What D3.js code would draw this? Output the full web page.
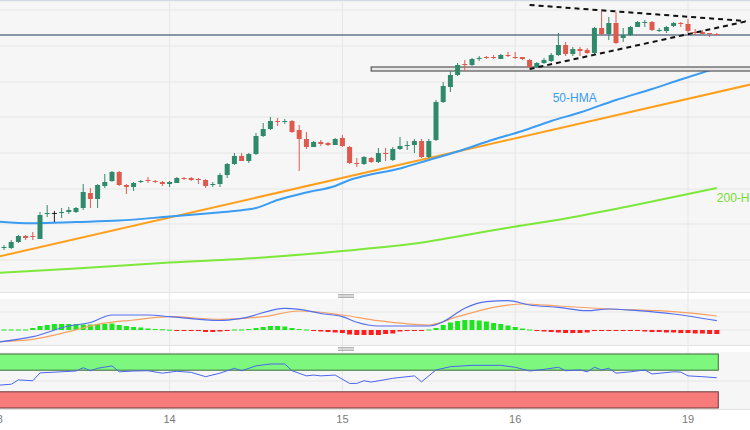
<!DOCTYPE html>
<html>
<head>
<meta charset="utf-8">
<script src="https://cdn.jsdelivr.net/npm/d3@7"></script>
<style>
  body { margin: 0; background: #fff; }
  svg { display: block; font-family: Arial, "Liberation Sans", sans-serif; }
</style>
</head>
<body>
<div id="chart"></div>
<script>
// hourly candles, index 0 = 13th 01:00 ... index 99 = 19th 04:00 (weekend skipped)
var dayTicks = [[-1, "13"], [23, "14"], [47, "15"], [71, "16"], [95, "19"]];

// [open, high, low, close]
var ohlc = [
  [1.0662,1.0665,1.0660,1.0663],[1.0662,1.0670,1.0661,1.0668],[1.0668,1.0675,1.0667,1.0674],[1.0674,1.0675,1.0670,1.0672],
  [1.0674,1.0678,1.0670,1.0673],[1.0671,1.0698,1.0671,1.0695],[1.0696,1.0705,1.0693,1.0697],[1.0697,1.0699,1.0688,1.0697],
  [1.0697,1.0702,1.0692,1.0698],[1.0698,1.0703,1.0696,1.0700],[1.0698,1.0703,1.0697,1.0702],[1.0702,1.0726,1.0700,1.0718],
  [1.0717,1.0722,1.0702,1.0711],[1.0711,1.0726,1.0702,1.0725],[1.0724,1.0736,1.0722,1.0728],[1.0729,1.0739,1.0728,1.0738],
  [1.0738,1.0739,1.0724,1.0725],[1.0725,1.0726,1.0716,1.0723],[1.0723,1.0728,1.0719,1.0727],[1.0728,1.0730,1.0727,1.0729],
  [1.0730,1.0733,1.0727,1.0729],[1.0729,1.0730,1.0727,1.0728],[1.0728,1.0729,1.0724,1.0726],[1.0726,1.0729,1.0723,1.0728],
  [1.0727,1.0733,1.0727,1.0732],[1.0732,1.0733,1.0730,1.0731],[1.0732,1.0733,1.0729,1.0730],[1.0731,1.0732,1.0726,1.0730],
  [1.0730,1.0731,1.0722,1.0724],[1.0725,1.0728,1.0723,1.0726],[1.0726,1.0737,1.0723,1.0735],[1.0735,1.0747,1.0732,1.0746],
  [1.0746,1.0757,1.0745,1.0754],[1.0754,1.0757,1.0749,1.0749],[1.0749,1.0757,1.0747,1.0756],[1.0756,1.0777,1.0755,1.0774],
  [1.0774,1.0787,1.0773,1.0781],[1.0781,1.0793,1.0780,1.0789],[1.0789,1.0792,1.0784,1.0788],[1.0788,1.0791,1.0786,1.0789],
  [1.0789,1.0790,1.0777,1.0778],[1.0780,1.0785,1.0739,1.0771],[1.0771,1.0778,1.0761,1.0763],[1.0763,1.0769,1.0763,1.0768],
  [1.0768,1.0770,1.0764,1.0766],[1.0767,1.0768,1.0764,1.0765],[1.0765,1.0772,1.0765,1.0771],[1.0772,1.0775,1.0763,1.0764],
  [1.0763,1.0764,1.0746,1.0747],[1.0747,1.0752,1.0743,1.0746],[1.0746,1.0754,1.0745,1.0753],[1.0752,1.0753,1.0747,1.0748],
  [1.0748,1.0762,1.0747,1.0757],[1.0757,1.0762,1.0749,1.0756],[1.0750,1.0763,1.0749,1.0761],[1.0761,1.0773,1.0760,1.0764],
  [1.0764,1.0769,1.0760,1.0765],[1.0765,1.0771,1.0757,1.0769],[1.0769,1.0771,1.0752,1.0753],[1.0753,1.0771,1.0752,1.0769],
  [1.0770,1.0810,1.0769,1.0808],[1.0808,1.0828,1.0807,1.0824],[1.0823,1.0839,1.0818,1.0835],[1.0835,1.0847,1.0834,1.0845],
  [1.0846,1.0850,1.0839,1.0845],[1.0845,1.0852,1.0844,1.0851],[1.0851,1.0854,1.0849,1.0852],[1.0853,1.0854,1.0851,1.0852],
  [1.0853,1.0855,1.0851,1.0852],[1.0851,1.0856,1.0851,1.0855],[1.0855,1.0858,1.0853,1.0854],[1.0853,1.0858,1.0851,1.0852],
  [1.0853,1.0853,1.0850,1.0851],[1.0850,1.0851,1.0842,1.0843],[1.0843,1.0848,1.0842,1.0847],[1.0847,1.0852,1.0846,1.0850],
  [1.0849,1.0857,1.0848,1.0855],[1.0855,1.0877,1.0854,1.0865],[1.0865,1.0868,1.0854,1.0856],[1.0856,1.0863,1.0854,1.0861],
  [1.0861,1.0863,1.0854,1.0859],[1.0860,1.0862,1.0856,1.0857],[1.0857,1.0883,1.0856,1.0882],[1.0882,1.0899,1.0875,1.0876],
  [1.0876,1.0893,1.0870,1.0887],[1.0887,1.0898,1.0866,1.0867],[1.0872,1.0882,1.0868,1.0875],[1.0875,1.0884,1.0874,1.0883],
  [1.0883,1.0889,1.0883,1.0888],[1.0887,1.0890,1.0883,1.0888],[1.0888,1.0889,1.0879,1.0880],[1.0879,1.0882,1.0878,1.0880],
  [1.0879,1.0884,1.0877,1.0883],[1.0884,1.0888,1.0883,1.0887],[1.0887,1.0888,1.0883,1.0886],[1.0886,1.0891,1.0877,1.0879],
  [1.0878,1.0881,1.0875,1.0877],[1.0878,1.0880,1.0876,1.0876],[1.0877,1.0877,1.0873,1.0876],[1.0876,1.0877,1.0875,1.0875]
];

var priceGrid = [1.0900, 1.0864, 1.0828, 1.0793, 1.0757, 1.0721, 1.0686, 1.0650];
var lastPrice = 1.0875;

// [index, price]
var hma50 = [[-1,1.06885],[4,1.06867],[10,1.0688],[16,1.06895],[23,1.06935],[29,1.0697],[32,1.0699],[35,1.0702],
  [38,1.0710],[42,1.07175],[46,1.0724],[48,1.0730],[50,1.0734],[55,1.07415],[59,1.0750],[63,1.07585],[68,1.07705],
  [72,1.0779],[76,1.0789],[80,1.07975],[85,1.0810],[90,1.0821],[94,1.08305],[99,1.0842]];
var hma200 = [[-1,1.0637],[10,1.06415],[23,1.06475],[35,1.0652],[47,1.0659],[59,1.06685],[65,1.0676],[69,1.0681],
  [78,1.06915],[87,1.0704],[99,1.0722]];
var trendLine = [[-1, 1.0653], [104, 1.0826]];
var triangleUpper = [[73, 1.0905], [103, 1.0889]];
var triangleLower = [[73, 1.0841], [103, 1.08885]];
var zoneStart = 51;
var zonePrices = [1.0839, 1.0843];

// MACD panel (values x1e-5)
var macdLine = [[-1,-12.3],[4,-6.7],[9,4],[12,7.5],[15,15],[20,15],[23,13.3],[30,9.5],[33,11.7],[39,21.7],[41,20.7],
  [44,16.5],[47,13.3],[49,7.7],[52,4],[59,4],[61,8.3],[64,21.7],[67,28.3],[70,29.3],[73,25],[77,22.7],[81,19.3],
  [84,21],[88,19.3],[93,16],[99,9.3]];
var signalLine = [[-1,-11.7],[4,-9.3],[9,-1.7],[13,5.7],[18,10],[23,13.3],[30,10.7],[36,13.3],[41,19],[47,15],
  [52,9.3],[59,5],[63,13.3],[68,22.7],[72,26],[77,24],[84,21],[93,18.3],[99,14]];
var histogram = [0.5,0.5,0.5,0.5,2,4,5,6,6,6,6,5.5,5.5,6,6,6.5,5,4,3,2.5,1.5,1,0.7,0.3,-0.3,-0.5,-0.7,-1,-2,-2,
  -1.5,-0.7,0.5,0.5,1,2,3,4,4,3.5,2,1,0.5,-0.5,-1.5,-2,-2.5,-3,-4.5,-5,-5,-5,-5,-4,-3.5,-1.5,-1,-0.7,-0.5,0.5,
  2,5,7.5,9,10,10,9.5,8.5,7,6,4.5,3,1.5,0.5,-1,-1.5,-2,-2.5,-3,-3,-3,-2.5,-1,-0.5,-0.3,-0.3,-0.3,-0.7,-1,-1.5,
  -2,-2,-2.5,-2.5,-3,-3,-3.5,-3.5,-4,-4];

// RSI panel [index, rsi]
var rsi = [[-1,42],[0,43],[1,44],[2,52],[4,50.5],[5,65],[10,68.5],[11,74.5],[12,69],[13,73.5],[15,78],[16,67],
  [18,68.5],[20,69],[22,64.5],[24,68],[26,66],[28,58],[30,64.5],[32,73.5],[33,69],[35,78],[37,81.5],[39,81.5],
  [40,69],[42,59.5],[43,61],[44,59.5],[46,61],[48,45.5],[49,45.5],[50,50.5],[51,48],[54,55],[57,59.5],[58,48.5],
  [60,70.5],[62,76.5],[65,79],[69,79],[71,75.5],[73,68.5],[75,71.5],[77,75.5],[78,69],[80,70.5],[81,67],[82,75.5],
  [83,70.5],[84,73.5],[85,64.5],[87,67],[89,70.5],[90,63],[93,67],[94,66.5],[95,59.5],[97,58],[99,56]];
var rsiBands = [[70, 100, "#7ef77e", "#3b6e3b"], [0, 30, "#f77b7b", "#6e3b3b"]];

var W = 750, H = 430;
var upCol = "#2f8a6c", downCol = "#df5a4c", gridCol = "#e6e6e6";

var svg = d3.select("#chart").append("svg").attr("width", W).attr("height", H);
svg.append("rect").attr("width", W).attr("height", H).attr("fill", "#fff");

var x = d3.scaleLinear().domain([0, 99]).range([4, 716.8]);
var y = d3.scaleLinear().domain([1.0910 - 0.0292, 1.0910]).range([292, 0]);
var ym = d3.scaleLinear().domain([-15, 31]).range([345, 299]);
var yr = d3.scaleLinear().domain([0, 100]).range([408, 354]);

var defs = svg.append("defs");
function clip(id, y0, y1) {
  defs.append("clipPath").attr("id", id).append("rect").attr("x", 0).attr("y", y0).attr("width", W).attr("height", y1 - y0);
}
clip("cMain", 1, 292); clip("cMacd", 299, 345); clip("cRsi", 352, 409);

// panels
svg.append("rect").attr("x", 0).attr("y", 0).attr("width", W).attr("height", 1.5).attr("fill", "#d3d9e6");
[[1.5, 292], [299, 345], [352, 409]].forEach(function(p) {
  svg.append("rect").attr("x", 0).attr("y", p[0]).attr("width", W).attr("height", p[1] - p[0]).attr("fill", "#f6f6f6");
  svg.append("line").attr("x1", 0).attr("x2", W).attr("y1", p[1] + 0.5).attr("y2", p[1] + 0.5).attr("stroke", "#e2e2e2");
});

// vertical day grid
svg.selectAll(".vgrid").data(dayTicks.slice(1)).enter().append("line")
  .attr("x1", function(d) { return x(d[0]); }).attr("x2", function(d) { return x(d[0]); })
  .attr("y1", 1.5).attr("y2", 409).attr("stroke", gridCol).attr("stroke-width", 1);

var main = svg.append("g").attr("clip-path", "url(#cMain)");
main.selectAll(".hgrid").data(priceGrid).enter().append("line")
  .attr("x1", 0).attr("x2", W).attr("y1", function(d) { return y(d); }).attr("y2", function(d) { return y(d); })
  .attr("stroke", gridCol).attr("stroke-width", 1);

function line(sx, sy) {
  return d3.line().x(function(d) { return sx(d[0]); }).y(function(d) { return sy(d[1]); }).curve(d3.curveMonotoneX);
}

// current price line
main.append("line").attr("x1", 0).attr("x2", W).attr("y1", y(lastPrice)).attr("y2", y(lastPrice))
  .attr("stroke", "#66758c").attr("stroke-width", 1.3);

// moving averages + trend line
main.append("path").datum(hma200).attr("d", line(x, y)).attr("fill", "none").attr("stroke", "#7be83a").attr("stroke-width", 2);
main.append("path").datum(trendLine).attr("d", line(x, y)).attr("fill", "none").attr("stroke", "#ff9f1c").attr("stroke-width", 2);
main.append("path").datum(hma50).attr("d", line(x, y)).attr("fill", "none").attr("stroke", "#3a9cf2").attr("stroke-width", 2);

// support zone
main.append("rect").attr("x", x(zoneStart)).attr("y", y(zonePrices[1]))
  .attr("width", W - x(zoneStart) + 5).attr("height", y(zonePrices[0]) - y(zonePrices[1]))
  .attr("fill", "#e8e8e8").attr("stroke", "#555").attr("stroke-width", 1.2);

// candles
var cw = 5;
var candle = main.selectAll(".candle").data(ohlc).enter().append("g");
function col(d) { return d[3] > d[0] ? upCol : (d[3] < d[0] ? downCol : "#222"); }
candle.append("line")
  .attr("x1", function(d, i) { return x(i); }).attr("x2", function(d, i) { return x(i); })
  .attr("y1", function(d) { return y(d[1]); }).attr("y2", function(d) { return y(d[2]); })
  .attr("stroke", col).attr("stroke-width", 1);
candle.append("rect")
  .attr("x", function(d, i) { return x(i) - cw / 2; }).attr("width", cw)
  .attr("y", function(d) { return y(Math.max(d[0], d[3])); })
  .attr("height", function(d) { return Math.max(1, Math.abs(y(d[0]) - y(d[3]))); })
  .attr("fill", col);

// triangle
[triangleUpper, triangleLower].forEach(function(t) {
  main.append("line").attr("x1", x(t[0][0])).attr("y1", y(t[0][1])).attr("x2", x(t[1][0])).attr("y2", y(t[1][1]))
    .attr("stroke", "#111").attr("stroke-width", 2).attr("stroke-dasharray", "5,4");
});

main.append("text").attr("x", x(76.2)).attr("y", y(1.0808)).attr("font-size", 12).attr("fill", "#3a9cf2").text("50-HMA");
main.append("text").attr("x", x(99)).attr("y", y(1.0708)).attr("font-size", 12).attr("fill", "#72dd30").text("200-HMA");

// drag handles
[296, 349].forEach(function(cy) {
  [-1.5, 0, 1.5].forEach(function(o) {
    svg.append("line").attr("x1", 338).attr("x2", 354).attr("y1", cy + o).attr("y2", cy + o)
      .attr("stroke", "#a0a0a0").attr("stroke-width", 0.8);
  });
});

// MACD
var mac = svg.append("g").attr("clip-path", "url(#cMacd)");
[0, 18].forEach(function(v) {
  mac.append("line").attr("x1", 0).attr("x2", W).attr("y1", ym(v)).attr("y2", ym(v)).attr("stroke", gridCol);
});
mac.selectAll(".hist").data(histogram).enter().append("rect")
  .attr("x", function(d, i) { return x(i) - 2.5; }).attr("width", 5)
  .attr("y", function(d) { return d > 0 ? ym(d) : ym(0); })
  .attr("height", function(d) { return Math.max(1, Math.abs(ym(d) - ym(0))); })
  .attr("fill", function(d) { return d >= 0 ? "#1ee61e" : "#ff1e1e"; });
mac.append("path").datum(signalLine).attr("d", line(x, ym)).attr("fill", "none").attr("stroke", "#f7a060").attr("stroke-width", 1.2);
mac.append("path").datum(macdLine).attr("d", line(x, ym)).attr("fill", "none").attr("stroke", "#526ff0").attr("stroke-width", 1.2);

// RSI
var rs = svg.append("g").attr("clip-path", "url(#cRsi)");
rs.append("line").attr("x1", 0).attr("x2", W).attr("y1", yr(50)).attr("y2", yr(50)).attr("stroke", gridCol);
rs.selectAll(".band").data(rsiBands).enter().append("rect")
  .attr("x", -2).attr("width", x(99) + 3.5)
  .attr("y", function(d) { return yr(d[1]); })
  .attr("height", function(d) { return yr(d[0]) - yr(d[1]); })
  .attr("fill", function(d) { return d[2]; })
  .attr("stroke", function(d) { return d[3]; }).attr("stroke-width", 1);
rs.append("path").datum(rsi).attr("d", d3.line().x(function(d) { return x(d[0]); }).y(function(d) { return yr(d[1]); }))
  .attr("fill", "none").attr("stroke", "#4a66ee").attr("stroke-width", 1);

// day labels
svg.selectAll(".xlab").data(dayTicks).enter().append("text")
  .attr("x", function(d) { return x(d[0]); }).attr("y", 423)
  .attr("text-anchor", "middle").attr("font-size", 11).attr("fill", "#7a7a7a")
  .text(function(d) { return d[1]; });
</script>
</body>
</html>
